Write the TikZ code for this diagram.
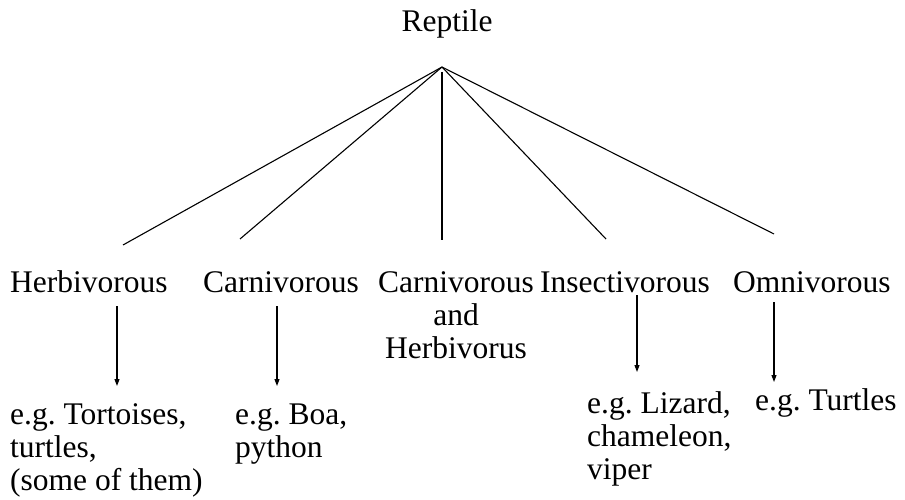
\documentclass[tikz,border=0pt]{standalone}
\usepackage{fontspec}
\setmainfont{Liberation Serif}
\frenchspacing
\usetikzlibrary{arrows.meta}

\begin{document}
\begin{tikzpicture}[
  x=1pt, y=-1pt,
  lbl/.style={inner sep=0pt, font=\fontsize{31.5}{33}\selectfont},
  ex/.style={lbl, align=left, anchor=base west},
  branch/.style={line width=1.1pt},
  arr/.style={-{Triangle[length=7pt,width=5pt]}, line width=1.1pt}
]
\useasboundingbox (0,0) rectangle (905,500);

% root
\node[lbl, anchor=base] (reptile) at (447,32) {Reptile};
\coordinate (top) at (442,67);
\coordinate (mid) at (442,72);

% diet groups (base = last line)
\node[lbl, anchor=base west] (herb) at (10,292) {Herbivorous};
\node[lbl, anchor=base west] (carn) at (203,292) {Carnivorous};
\node[lbl, align=center, anchor=base] (both) at (456,358) {Carnivorous\\and\\Herbivorus};
\node[lbl, anchor=base west] (insect) at (540,292) {Insectivorous};
\node[lbl, anchor=base west] (omni) at (733,292) {Omnivorous};

% branch ends
\coordinate (b1) at (123,245);
\coordinate (b2) at (240,239);
\coordinate (b3) at (442,240);
\coordinate (b4) at (606,239);
\coordinate (b5) at (774,234);
\draw[branch] (top) -- (b1);
\draw[branch] (top) -- (b2);
\draw[branch] (mid) -- (b3);
\draw[branch] (top) -- (b4);
\draw[branch] (top) -- (b5);

% examples
\node[ex] (exherb) at (10,490) {e.g. Tortoises,\\turtles,\\(some of them)};
\node[ex] (excarn) at (235,457) {e.g. Boa,\\python};
\node[ex] (exinsect) at (587,479) {e.g. Lizard,\\chameleon,\\viper};
\node[ex] (exomni) at (755,410) {e.g. Turtles};

\coordinate (h1) at (117,306); \coordinate (h2) at (117,386);
\coordinate (c1) at (277,306); \coordinate (c2) at (277,386);
\coordinate (i1) at (637,295); \coordinate (i2) at (637,372);
\coordinate (o1) at (774,302); \coordinate (o2) at (774,382);
\draw[arr] (h1) -- (h2);
\draw[arr] (c1) -- (c2);
\draw[arr] (i1) -- (i2);
\draw[arr] (o1) -- (o2);
\end{tikzpicture}
\end{document}
